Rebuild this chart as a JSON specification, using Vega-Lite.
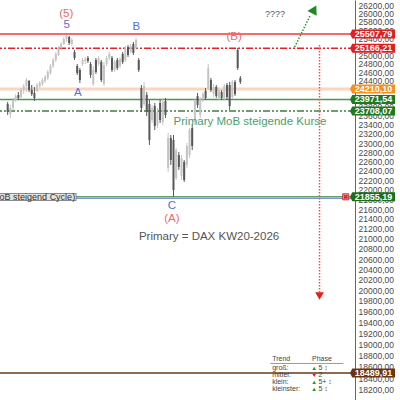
{
"$schema": "https://vega.github.io/schema/vega-lite/v6.json",
"width": 355, "height": 400,
"autosize": {"type": "none"},
"padding": {"left": 0, "top": 0, "right": 45, "bottom": 0},
"background": "white",
"config": {"view": {"stroke": null}, "font": "Liberation Sans", "axis": {"labelFont": "Liberation Sans"}},
"datasets": {
"bars": [
{"t":1,"o":23868,"h":23914,"l":23620,"c":23688},
{"t":2,"o":23643,"h":23845,"l":23553,"c":23778},
{"t":3,"o":23778,"h":24005,"l":23733,"c":23959},
{"t":4,"o":23959,"h":24096,"l":23914,"c":24050},
{"t":5,"o":24073,"h":24141,"l":23959,"c":24005},
{"t":6,"o":24027,"h":24233,"l":24005,"c":24187},
{"t":7,"o":24187,"h":24325,"l":24096,"c":24279},
{"t":8,"o":24279,"h":24465,"l":24141,"c":24418},
{"t":9,"o":24395,"h":24418,"l":24141,"c":24187},
{"t":10,"o":24187,"h":24302,"l":24050,"c":24096},
{"t":11,"o":24119,"h":24256,"l":23936,"c":24005},
{"t":12,"o":24164,"h":24349,"l":24141,"c":24302},
{"t":13,"o":24279,"h":24395,"l":24233,"c":24349},
{"t":14,"o":24325,"h":24465,"l":24279,"c":24418},
{"t":15,"o":24395,"h":24535,"l":24349,"c":24488},
{"t":16,"o":24465,"h":24651,"l":24418,"c":24604},
{"t":17,"o":24581,"h":24792,"l":24535,"c":24745},
{"t":18,"o":24745,"h":24933,"l":24698,"c":24886},
{"t":19,"o":24886,"h":25075,"l":24839,"c":25028},
{"t":20,"o":25004,"h":25219,"l":24980,"c":25171},
{"t":21,"o":25171,"h":25315,"l":25123,"c":25267},
{"t":22,"o":25267,"h":25435,"l":25243,"c":25387},
{"t":23,"o":25387,"h":25480,"l":25315,"c":25460},
{"t":24,"o":25435,"h":25460,"l":25243,"c":25291},
{"t":25,"o":25267,"h":25411,"l":25219,"c":25363},
{"t":26,"o":25075,"h":25123,"l":24886,"c":24933},
{"t":27,"o":24745,"h":24792,"l":24535,"c":24581},
{"t":28,"o":24651,"h":24698,"l":24349,"c":24418},
{"t":29,"o":24792,"h":24933,"l":24745,"c":24886},
{"t":30,"o":24862,"h":24957,"l":24792,"c":24910},
{"t":31,"o":24933,"h":24980,"l":24815,"c":24862},
{"t":32,"o":24792,"h":24839,"l":24465,"c":24535},
{"t":33,"o":24325,"h":24745,"l":24279,"c":24651},
{"t":34,"o":24886,"h":24933,"l":24558,"c":24604},
{"t":35,"o":24792,"h":24980,"l":24745,"c":24933},
{"t":36,"o":24839,"h":24886,"l":24372,"c":24418},
{"t":37,"o":24325,"h":24839,"l":24279,"c":24768},
{"t":38,"o":24792,"h":24980,"l":24745,"c":24933},
{"t":39,"o":24933,"h":25075,"l":24886,"c":25028},
{"t":40,"o":24933,"h":24980,"l":24604,"c":24651},
{"t":41,"o":24651,"h":24886,"l":24604,"c":24839},
{"t":42,"o":24886,"h":24933,"l":24651,"c":24698},
{"t":43,"o":24745,"h":24957,"l":24698,"c":24910},
{"t":44,"o":25028,"h":25075,"l":24792,"c":24839},
{"t":45,"o":24886,"h":25219,"l":24839,"c":25171},
{"t":46,"o":25195,"h":25243,"l":24957,"c":25004},
{"t":47,"o":25075,"h":25267,"l":25052,"c":25219},
{"t":48,"o":25267,"h":25315,"l":25004,"c":25052},
{"t":49,"o":25171,"h":25411,"l":25123,"c":25363},
{"t":50,"o":24886,"h":24933,"l":24604,"c":24651},
{"t":51,"o":24233,"h":24302,"l":23688,"c":23778},
{"t":52,"o":23868,"h":24372,"l":23823,"c":24279},
{"t":53,"o":24073,"h":24141,"l":23598,"c":23688},
{"t":54,"o":23868,"h":23959,"l":22957,"c":23066},
{"t":55,"o":23508,"h":23845,"l":23442,"c":23778},
{"t":56,"o":23823,"h":23891,"l":23286,"c":23375},
{"t":57,"o":23397,"h":23778,"l":23330,"c":23688},
{"t":58,"o":23891,"h":23959,"l":23442,"c":23508},
{"t":59,"o":23464,"h":24005,"l":23397,"c":23914},
{"t":60,"o":23936,"h":24005,"l":23553,"c":23620},
{"t":61,"o":22461,"h":23220,"l":22376,"c":23110},
{"t":62,"o":23110,"h":23176,"l":22525,"c":22632},
{"t":63,"o":23066,"h":23176,"l":21855,"c":21997},
{"t":64,"o":22249,"h":22891,"l":22207,"c":22848},
{"t":65,"o":22740,"h":22805,"l":22419,"c":22483},
{"t":66,"o":22292,"h":22740,"l":22207,"c":22675},
{"t":67,"o":22589,"h":22632,"l":22165,"c":22207},
{"t":68,"o":22525,"h":23001,"l":22461,"c":22935},
{"t":69,"o":22740,"h":23330,"l":22675,"c":23286},
{"t":70,"o":23330,"h":23419,"l":22848,"c":22935},
{"t":71,"o":23464,"h":24005,"l":23397,"c":23959},
{"t":72,"o":24050,"h":24119,"l":23778,"c":23845},
{"t":73,"o":23620,"h":24027,"l":23553,"c":23982},
{"t":74,"o":23982,"h":24141,"l":23914,"c":24096},
{"t":75,"o":24164,"h":24233,"l":23959,"c":24005},
{"t":76,"o":24233,"h":24792,"l":24187,"c":24698},
{"t":77,"o":24418,"h":24465,"l":24141,"c":24187},
{"t":78,"o":24096,"h":24325,"l":24027,"c":24256},
{"t":79,"o":24256,"h":24302,"l":24005,"c":24050},
{"t":80,"o":24005,"h":24233,"l":23959,"c":24187},
{"t":81,"o":24141,"h":24187,"l":23959,"c":24005},
{"t":82,"o":24005,"h":24325,"l":23959,"c":24279},
{"t":83,"o":24302,"h":24349,"l":23959,"c":24027},
{"t":84,"o":24302,"h":24372,"l":23733,"c":23823},
{"t":85,"o":24027,"h":24418,"l":23982,"c":24372},
{"t":86,"o":24372,"h":24418,"l":24050,"c":24096},
{"t":87,"o":25123,"h":25171,"l":24651,"c":24698},
{"t":88,"o":24465,"h":24511,"l":24325,"c":24372}
],
"levels": [
{"name":"r1","value":25507.79,"label":"25507,79"},
{"name":"r2","value":25166.21,"label":"25166,21"},
{"name":"p","value":24210.10,"label":"24210,10"},
{"name":"s1","value":23971.54,"label":"23971,54"},
{"name":"s2","value":23708.07,"label":"23708,07"},
{"name":"lo","value":21855.19,"label":"21855,19"},
{"name":"tg","value":18489.91,"label":"18489,91"}
],
"notes": [
{"text":"(5)","t":22.9,"v":26004,"kind":"wr"},
{"text":"5","t":23.1,"v":25727,"kind":"wb"},
{"text":"B","t":49.1,"v":25670,"kind":"wb"},
{"text":"(B)","t":85.7,"v":25423,"kind":"wr"},
{"text":"A","t":27.2,"v":24119,"kind":"wb"},
{"text":"C","t":62.4,"v":21665,"kind":"wb"},
{"text":"(A)","t":62.4,"v":21390,"kind":"wr"},
{"text":"????","t":101.0,"v":25996,"kind":"q"},
{"text":"Primary MoB steigende Kurse","t":91.6,"v":23470,"kind":"g"},
{"text":"Primary = DAX KW20-2026","t":76.3,"v":21037,"kind":"k"}
],
"box": [{"t0":-5,"t1":26.6,"v0":21924,"v1":21779,"text":"Primary MoB steigend Cycle)","tv":21855}],
"upArrow": [{"t":108.3,"v":25195},{"t":114.2,"v":25970}],
"upHead": [{"t":115.6,"v":26110}],
"downArrow": [{"t":117.6,"v":25243,"v2":19967}],
"downHead": [{"t":117.6,"v":19892}],
"table": [
{"text":"Trend","t":99.9,"v":18738},
{"text":"Phase","t":114.8,"v":18738},
{"text":"groß:","t":99.9,"v":18570},
{"text":"mittel:","t":99.9,"v":18447},
{"text":"klein:","t":99.9,"v":18325},
{"text":"kleinster:","t":99.9,"v":18204},
{"text":"5 ↕","t":117.2,"v":18570},
{"text":"2","t":117.2,"v":18447},
{"text":"5+ ↕","t":117.2,"v":18325},
{"text":"5 ↕","t":117.2,"v":18204}
],
"tableLine": [{"t0":99.2,"t1":126.5,"v":18658}],
"tableMarks": [
{"t":115.6,"v":18570,"dir":"up"},
{"t":115.6,"v":18447,"dir":"down"},
{"t":115.6,"v":18325,"dir":"up"},
{"t":115.6,"v":18204,"dir":"up"}
],
"icon": [{"t":127.4,"v":21855.19}]
},
"layer": [
{
"data": {"name": "levels"},
"mark": {"type": "rule"},
"encoding": {
"y": {"field": "value", "type": "quantitative", "scale": {"type": "log", "domain": [18022, 26344], "nice": false},
"axis": {"orient": "right", "title": null, "grid": false, "ticks": false, "domain": true, "labels": true, "labelPadding": 3, "labelFontSize": 8.5, "labelColor": "#4a4a4a", "domainColor": "#666666", "labelOverlap": false, "labelFlush": false, "labelBound": false,
"values": [18200,18400,18600,18800,19000,19200,19400,19600,19800,20000,20200,20400,20600,20800,21000,21200,21400,21600,21800,22000,22200,22400,22600,22800,23000,23200,23400,23600,23800,24000,24200,24400,24600,24800,25000,25200,25400,25600,25800,26000,26200],
"labelExpr": "replace(format(datum.value, '.2f'), '.', ',')"}},
"color": {"condition": [
{"test": "datum.name==='r1'", "value": "#f23a3a"},
{"test": "datum.name==='r2'", "value": "#e82222"},
{"test": "datum.name==='p'", "value": "#fcd5bf"},
{"test": "datum.name==='s1'", "value": "#4a9a4a"},
{"test": "datum.name==='s2'", "value": "#3f7f3f"},
{"test": "datum.name==='lo'", "value": "#62a262"}], "value": "#6e3a1a"},
"strokeDash": {"condition": {"test": "datum.name==='r2' || datum.name==='s2'", "value": [7, 2, 2, 2, 2, 2]}, "value": [1, 0]},
"strokeWidth": {"condition": {"test": "datum.name==='p'", "value": 3}, "value": 1.5}
}
},
{
"data": {"name": "levels"},
"transform": [{"filter": "datum.name==='lo'"}],
"mark": {"type": "rule", "color": "#6a7ec8", "strokeWidth": 1, "yOffset": 1.5},
"encoding": {
"y": {"field": "value", "type": "quantitative", "scale": {"type": "log", "domain": [18022, 26344], "nice": false}}
}
},
{
"data": {"name": "bars"},
"mark": {"type": "rule", "strokeWidth": 1},
"encoding": {
"x": {"field": "t", "type": "quantitative", "scale": {"domain": [0, 129], "nice": false, "zero": false}, "axis": null},
"y": {"field": "l", "type": "quantitative", "scale": {"type": "log", "domain": [18022, 26344], "nice": false}},
"y2": {"field": "h"},
"color": {"condition": {"test": "datum.c >= datum.o", "value": "#c4c4c4"}, "value": "#585858"}
}
},
{
"data": {"name": "bars"},
"mark": {"type": "bar", "size": 2},
"encoding": {
"x": {"field": "t", "type": "quantitative", "scale": {"domain": [0, 129], "nice": false, "zero": false}, "axis": null},
"y": {"field": "o", "type": "quantitative", "scale": {"type": "log", "domain": [18022, 26344], "nice": false}},
"y2": {"field": "c"},
"color": {"condition": {"test": "datum.c >= datum.o", "value": "#c4c4c4"}, "value": "#585858"}
}
},
{
"data": {"name": "box"},
"mark": {"type": "rect", "fill": "#e2e2e2", "stroke": "#8a8a8a", "strokeWidth": 1},
"encoding": {
"x": {"field": "t0", "type": "quantitative", "scale": {"domain": [0, 129], "nice": false, "zero": false}, "axis": null},
"x2": {"field": "t1"},
"y": {"field": "v0", "type": "quantitative", "scale": {"type": "log", "domain": [18022, 26344], "nice": false}},
"y2": {"field": "v1"}
}
},
{
"data": {"name": "box"},
"mark": {"type": "text", "align": "right", "baseline": "middle", "fontSize": 9, "color": "#333333", "dx": -1},
"encoding": {
"x": {"field": "t1", "type": "quantitative", "scale": {"domain": [0, 129], "nice": false, "zero": false}, "axis": null},
"y": {"field": "tv", "type": "quantitative", "scale": {"type": "log", "domain": [18022, 26344], "nice": false}},
"text": {"field": "text"}
}
},
{
"data": {"name": "notes"},
"mark": {"type": "text", "align": "center", "baseline": "middle"},
"encoding": {
"x": {"field": "t", "type": "quantitative", "scale": {"domain": [0, 129], "nice": false, "zero": false}, "axis": null},
"y": {"field": "v", "type": "quantitative", "scale": {"type": "log", "domain": [18022, 26344], "nice": false}},
"text": {"field": "text"},
"color": {"condition": [
{"test": "datum.kind==='wr'", "value": "#f06a6a"},
{"test": "datum.kind==='wb'", "value": "#5b6bd6"},
{"test": "datum.kind==='g'", "value": "#4c9e70"}], "value": "#555555"},
"size": {"condition": {"test": "datum.kind==='q'", "value": 9}, "value": 11.5}
}
},
{
"data": {"name": "upArrow"},
"mark": {"type": "line", "color": "#2e9a2e", "strokeWidth": 1.5, "strokeDash": [1.5, 1.5]},
"encoding": {
"x": {"field": "t", "type": "quantitative", "scale": {"domain": [0, 129], "nice": false, "zero": false}, "axis": null},
"y": {"field": "v", "type": "quantitative", "scale": {"type": "log", "domain": [18022, 26344], "nice": false}}
}
},
{
"data": {"name": "upHead"},
"mark": {"type": "point", "shape": "triangle-up", "filled": true, "size": 110, "angle": 28, "color": "#1f8a1f", "opacity": 1},
"encoding": {
"x": {"field": "t", "type": "quantitative", "scale": {"domain": [0, 129], "nice": false, "zero": false}, "axis": null},
"y": {"field": "v", "type": "quantitative", "scale": {"type": "log", "domain": [18022, 26344], "nice": false}}
}
},
{
"data": {"name": "downArrow"},
"mark": {"type": "rule", "color": "#f05050", "strokeWidth": 1.5, "strokeDash": [1.5, 1.5]},
"encoding": {
"x": {"field": "t", "type": "quantitative", "scale": {"domain": [0, 129], "nice": false, "zero": false}, "axis": null},
"y": {"field": "v", "type": "quantitative", "scale": {"type": "log", "domain": [18022, 26344], "nice": false}},
"y2": {"field": "v2"}
}
},
{
"data": {"name": "downHead"},
"mark": {"type": "point", "shape": "triangle-down", "filled": true, "size": 75, "color": "#f01818", "opacity": 1},
"encoding": {
"x": {"field": "t", "type": "quantitative", "scale": {"domain": [0, 129], "nice": false, "zero": false}, "axis": null},
"y": {"field": "v", "type": "quantitative", "scale": {"type": "log", "domain": [18022, 26344], "nice": false}}
}
},
{
"data": {"name": "tableLine"},
"mark": {"type": "rule", "color": "#9a9a9a", "strokeWidth": 1},
"encoding": {
"x": {"field": "t0", "type": "quantitative", "scale": {"domain": [0, 129], "nice": false, "zero": false}, "axis": null},
"x2": {"field": "t1"},
"y": {"field": "v", "type": "quantitative", "scale": {"type": "log", "domain": [18022, 26344], "nice": false}}
}
},
{
"data": {"name": "table"},
"mark": {"type": "text", "align": "left", "baseline": "middle", "fontSize": 7, "color": "#444444"},
"encoding": {
"x": {"field": "t", "type": "quantitative", "scale": {"domain": [0, 129], "nice": false, "zero": false}, "axis": null},
"y": {"field": "v", "type": "quantitative", "scale": {"type": "log", "domain": [18022, 26344], "nice": false}},
"text": {"field": "text"}
}
},
{
"data": {"name": "tableMarks"},
"mark": {"type": "point", "filled": true, "size": 14, "opacity": 1},
"encoding": {
"x": {"field": "t", "type": "quantitative", "scale": {"domain": [0, 129], "nice": false, "zero": false}, "axis": null},
"y": {"field": "v", "type": "quantitative", "scale": {"type": "log", "domain": [18022, 26344], "nice": false}},
"shape": {"condition": {"test": "datum.dir==='up'", "value": "triangle-up"}, "value": "triangle-down"},
"color": {"condition": {"test": "datum.dir==='up'", "value": "#22a022"}, "value": "#e02020"}
}
},
{
"data": {"name": "icon"},
"mark": {"type": "point", "shape": "square", "filled": true, "size": 36, "color": "#f2b4b4", "stroke": "#c83030", "strokeWidth": 1, "opacity": 1},
"encoding": {
"x": {"field": "t", "type": "quantitative", "scale": {"domain": [0, 129], "nice": false, "zero": false}, "axis": null},
"y": {"field": "v", "type": "quantitative", "scale": {"type": "log", "domain": [18022, 26344], "nice": false}}
}
},
{
"data": {"name": "icon"},
"mark": {"type": "point", "shape": "cross", "filled": true, "size": 22, "angle": 45, "color": "#c83030", "opacity": 1},
"encoding": {
"x": {"field": "t", "type": "quantitative", "scale": {"domain": [0, 129], "nice": false, "zero": false}, "axis": null},
"y": {"field": "v", "type": "quantitative", "scale": {"type": "log", "domain": [18022, 26344], "nice": false}}
}
},
{
"data": {"name": "levels"},
"mark": {"type": "point", "shape": "M-1,0L-0.9,-0.2L1,-0.2L1,0.2L-0.9,0.2Z", "filled": true, "size": 2025, "opacity": 1, "xOffset": 22.5},
"encoding": {
"x": {"datum": 129, "type": "quantitative", "scale": {"domain": [0, 129], "nice": false, "zero": false}, "axis": null},
"y": {"field": "value", "type": "quantitative", "scale": {"type": "log", "domain": [18022, 26344], "nice": false}},
"color": {"condition": [
{"test": "datum.name==='r1' || datum.name==='r2'", "value": "#e02020"},
{"test": "datum.name==='p'", "value": "#f5901e"},
{"test": "datum.name==='s1' || datum.name==='s2'", "value": "#1e7a1e"},
{"test": "datum.name==='lo'", "value": "#1c6e1c"}], "value": "#6b3410"}
}
},
{
"data": {"name": "levels"},
"mark": {"type": "text", "align": "center", "baseline": "middle", "fontSize": 9, "fontWeight": "bold", "color": "white", "dx": 23.5},
"encoding": {
"x": {"datum": 129, "type": "quantitative", "scale": {"domain": [0, 129], "nice": false, "zero": false}, "axis": null},
"y": {"field": "value", "type": "quantitative", "scale": {"type": "log", "domain": [18022, 26344], "nice": false}},
"text": {"field": "label"}
}
}
]
}
